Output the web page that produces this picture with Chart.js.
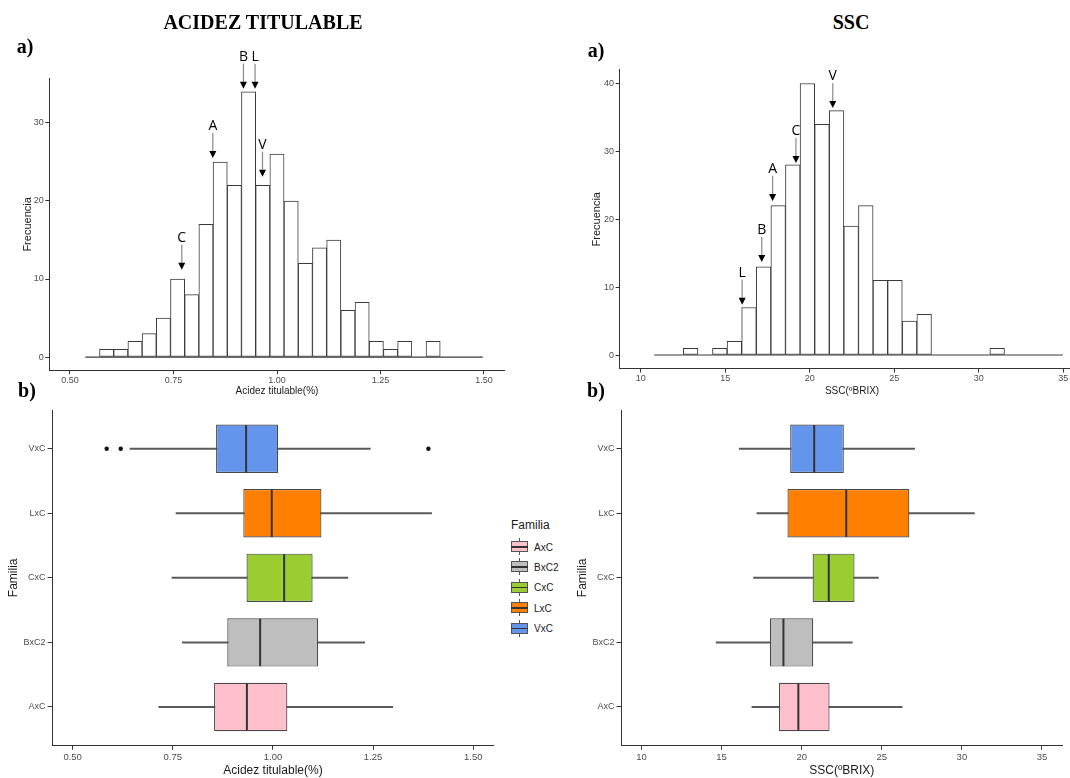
<!DOCTYPE html>
<html>
<head>
<meta charset="utf-8">
<title>Acidez titulable y SSC</title>
<script src="https://cdn.jsdelivr.net/npm/chart.js@4.4.1/dist/chart.umd.min.js"></script>
<style>
    html, body { margin: 0; padding: 0; background: #fff; }
    body { width: 1070px; height: 778px; position: relative; overflow: hidden;
           font-family: 'Liberation Sans', Arial, sans-serif; }
    canvas { position: absolute; }
    .head { position: absolute; transform: translate(-50%, -50%); white-space: nowrap; line-height: 1;
            font-family: 'Liberation Serif', 'Times New Roman', serif; font-weight: bold; font-size: 20px; color: #000; }
    .leg-title { position: absolute; left: 511px; top: 525px; transform: translateY(-50%);
                 font-size: 12px; color: #1a1a1a; }
    .leg-item { position: absolute; left: 511px; height: 17px; }
    .leg-key { position: absolute; left: 0; top: 0; width: 17px; height: 17px; }
    .leg-key .wh { position: absolute; left: 8px; top: 0; width: 1px; height: 17px; background: #555; }
    .leg-key .bx { position: absolute; left: 0; top: 3px; width: 15px; height: 9px; border: 1px solid #555; }
    .leg-key .md { position: absolute; left: 0; top: 8px; width: 17px; height: 1.5px; background: #333; }
    .leg-lab { position: absolute; left: 23px; top: 50%; transform: translateY(-50%); font-size: 10px; color: #1a1a1a; white-space: nowrap; }
</style>
</head>
<body>

<canvas id="hist-acid" width="515" height="370" style="left:0; top:30px; width:515px; height:370px;"></canvas>
<canvas id="hist-ssc" width="530" height="350" style="left:560px; top:50px; width:530px; height:350px;"></canvas>
<canvas id="box-acid" width="500" height="378" style="left:0; top:400px; width:500px; height:378px;"></canvas>
<canvas id="box-ssc" width="510" height="378" style="left:560px; top:400px; width:510px; height:378px;"></canvas>

<div class="head" style="left:263px; top:22px;">ACIDEZ TITULABLE</div>
<div class="head" style="left:851px; top:22px;">SSC</div>
<div class="head" style="left:25px; top:46px;">a)</div>
<div class="head" style="left:596px; top:50px;">a)</div>
<div class="head" style="left:27px; top:390px;">b)</div>
<div class="head" style="left:596px; top:390px;">b)</div>

<div id="legend"></div>

<script>
(function () {
    'use strict';

    // ---- histogram data (bin counts) ----
    var acidBinStart = 0.537;
    var acidBinWidth = 0.03429;
    var acidCounts = [0, 1, 1, 2, 3, 5, 10, 8, 17, 25, 22, 34, 22, 26, 20, 12, 14, 15, 6, 7, 2, 1, 2, 0, 2, 0, 0, 0];

    var sscBinStart = 10.79;
    var sscBinWidth = 0.8636;
    var sscCounts = [0, 0, 1, 0, 1, 2, 7, 13, 22, 28, 40, 34, 36, 19, 22, 11, 11, 5, 6, 0, 0, 0, 0, 1, 0, 0, 0, 0];

    // arrows marking the parents
    var acidNoteLabels = ['A', 'B', 'L', 'V', 'C'];
    var acidNoteX = [0.845, 0.919, 0.947, 0.965, 0.770];
    var acidNoteTip = [25.5, 34.4, 34.4, 23.1, 11.2];

    var sscNoteLabels = ['V', 'C', 'A', 'B', 'L'];
    var sscNoteX = [21.36, 19.18, 17.80, 17.16, 16.00];
    var sscNoteTip = [36.4, 28.3, 22.7, 13.7, 7.4];

    // ---- boxplot data, bottom to top ----
    var families = ['AxC', 'BxC2', 'CxC', 'LxC', 'VxC'];
    var familyColors = ['#FFC0CB', '#BEBEBE', '#9ACD32', '#FF8000', '#6495ED'];

    var acidLow = [0.715, 0.774, 0.748, 0.758, 0.643];
    var acidQ1 = [0.853, 0.886, 0.934, 0.926, 0.858];
    var acidMed = [0.935, 0.968, 1.028, 0.997, 0.933];
    var acidQ3 = [1.036, 1.113, 1.099, 1.121, 1.013];
    var acidHigh = [1.299, 1.229, 1.187, 1.396, 1.243];
    var acidOutlierX = [0.585, 0.620, 1.388];
    var acidOutlierFam = ['VxC', 'VxC', 'VxC'];

    var sscLow = [16.89, 14.66, 16.99, 17.20, 16.10];
    var sscQ1 = [18.58, 18.01, 20.68, 19.11, 19.28];
    var sscMed = [19.79, 18.86, 21.69, 22.78, 20.78];
    var sscQ3 = [21.74, 20.72, 23.30, 26.72, 22.63];
    var sscHigh = [26.27, 23.16, 24.79, 30.78, 27.05];

    var AXIS = '#333333';
    var TICK_TEXT = '#4d4d4d';
    var TITLE_TEXT = '#1a1a1a';

    Chart.defaults.font.family = "'Liberation Sans', Arial, sans-serif";
    Chart.defaults.animation = false;

    /**
     * Arrow + letter annotations above histogram bars.
     */
    function arrowNotes(labels, xs, tips) {
        return {
            id: 'arrowNotes',
            afterDatasetsDraw: function (chart) {
                var ctx = chart.ctx;
                var sx = chart.scales.x;
                var sy = chart.scales.y;
                ctx.save();
                labels.forEach(function (lab, i) {
                    var px = sx.getPixelForValue(xs[i]);
                    var tip = sy.getPixelForValue(tips[i]);
                    ctx.strokeStyle = '#8a8a8a';
                    ctx.lineWidth = 1.2;
                    ctx.beginPath();
                    ctx.moveTo(px, tip - 25);
                    ctx.lineTo(px, tip - 6);
                    ctx.stroke();
                    ctx.fillStyle = '#000';
                    ctx.beginPath();
                    ctx.moveTo(px - 3.5, tip - 7);
                    ctx.lineTo(px + 3.5, tip - 7);
                    ctx.lineTo(px, tip);
                    ctx.closePath();
                    ctx.fill();
                    ctx.font = "14px 'Open Sans', sans-serif";
                    ctx.textAlign = 'center';
                    ctx.textBaseline = 'middle';
                    ctx.fillText(lab, px, tip - 32);
                });
                ctx.restore();
            }
        };
    }

    /**
     * Median strokes drawn across the box elements.
     */
    function medianLines(medians) {
        return {
            id: 'medianLines',
            afterDatasetsDraw: function (chart) {
                var ctx = chart.ctx;
                var sx = chart.scales.x;
                var boxes = chart.getDatasetMeta(0).data;
                ctx.save();
                ctx.strokeStyle = '#333';
                ctx.lineWidth = 2;
                boxes.forEach(function (el, i) {
                    var px = sx.getPixelForValue(medians[i]);
                    var h = el.height / 2 - 0.5;
                    ctx.beginPath();
                    ctx.moveTo(px, el.y - h);
                    ctx.lineTo(px, el.y + h);
                    ctx.stroke();
                });
                ctx.restore();
            }
        };
    }

    function axisCommon(extra) {
        var base = {
            type: 'linear',
            offset: false,
            border: { display: true, color: AXIS, width: 1 },
            grid: { display: true, offset: false, drawOnChartArea: false, drawTicks: true,
                    tickLength: 4, tickColor: AXIS },
            ticks: { color: TICK_TEXT, font: { size: 9 }, includeBounds: false, autoSkip: false, maxRotation: 0 }
        };
        return Object.assign(base, extra);
    }

    function histChart(id, opt) {
        var bars = opt.counts.map(function (c, i) {
            return { x: opt.start + (i + 0.5) * opt.width, y: c };
        });
        var end = opt.start + opt.counts.length * opt.width;

        return new Chart(document.getElementById(id), {
            type: 'bar',
            data: {
                datasets: [{
                    data: bars,
                    backgroundColor: '#ffffff',
                    borderColor: '#3a3a3a',
                    borderWidth: 1,
                    borderSkipped: false,
                    barPercentage: 1,
                    categoryPercentage: 1
                }, {
                    type: 'line',
                    data: [{ x: opt.start, y: 0 }, { x: end, y: 0 }],
                    borderColor: '#3a3a3a',
                    borderWidth: 1.2,
                    pointRadius: 0
                }]
            },
            options: {
                responsive: false,
                events: [],
                layout: { padding: opt.padding },
                plugins: { legend: { display: false }, tooltip: { enabled: false } },
                scales: {
                    x: axisCommon({
                        min: opt.xMin, max: opt.xMax,
                        afterFit: function (s) { s.height = opt.xHeight; },
                        ticks: { color: TICK_TEXT, font: { size: 9 }, includeBounds: false, autoSkip: false,
                                 maxRotation: 0, padding: 1, stepSize: opt.xStep, callback: opt.xFormat },
                        title: { display: true, text: opt.xTitle, color: TITLE_TEXT, font: { size: 10 },
                                 padding: { top: 0, bottom: 3 } }
                    }),
                    y: axisCommon({
                        min: opt.yMin, max: opt.yMax,
                        afterFit: function (s) { s.width = opt.yWidth; },
                        ticks: { color: TICK_TEXT, font: { size: 9 }, includeBounds: false, autoSkip: false,
                                 padding: 1.5, stepSize: 10 },
                        title: { display: true, text: 'Frecuencia', color: TITLE_TEXT, font: { size: 11 },
                                 padding: { top: opt.yTitlePad, bottom: 0 } }
                    })
                }
            },
            plugins: [arrowNotes(opt.noteLabels, opt.noteX, opt.noteTip)]
        });
    }

    function boxChart(id, opt) {
        var cats = families.map(function (f, i) { return i + 1; });
        var boxes = cats.map(function (y, i) { return { x: [opt.q1[i], opt.q3[i]], y: y }; });
        var whiskers = cats.map(function (y, i) { return { x: [opt.low[i], opt.high[i]], y: y }; });
        var outliers = (opt.outX || []).map(function (x, i) {
            return { x: x, y: families.indexOf(opt.outFam[i]) + 1 };
        });

        return new Chart(document.getElementById(id), {
            type: 'bar',
            data: {
                datasets: [{
                    data: boxes,
                    indexAxis: 'y',
                    grouped: false,
                    backgroundColor: familyColors,
                    borderColor: '#4a4a4a',
                    borderWidth: 1.2,
                    borderSkipped: false,
                    barPercentage: 0.75,
                    categoryPercentage: 1
                }, {
                    data: whiskers,
                    indexAxis: 'y',
                    grouped: false,
                    backgroundColor: '#5a5a5a',
                    borderWidth: 0,
                    barThickness: 1.3
                }, {
                    type: 'scatter',
                    data: outliers,
                    backgroundColor: '#111',
                    borderWidth: 0,
                    pointRadius: 2.2
                }]
            },
            options: {
                indexAxis: 'y',
                responsive: false,
                events: [],
                layout: { padding: opt.padding },
                plugins: { legend: { display: false }, tooltip: { enabled: false } },
                scales: {
                    x: axisCommon({
                        min: opt.xMin, max: opt.xMax,
                        afterFit: function (s) { s.height = opt.xHeight; },
                        ticks: { color: TICK_TEXT, font: { size: 9.5 }, includeBounds: false, autoSkip: false,
                                 maxRotation: 0, padding: 2, stepSize: opt.xStep, callback: opt.xFormat },
                        title: { display: true, text: opt.xTitle, color: TITLE_TEXT, font: { size: 12 },
                                 padding: { top: 0, bottom: 0 } }
                    }),
                    y: axisCommon({
                        min: 0.4, max: 5.6,
                        afterFit: function (s) { s.width = opt.yWidth; },
                        grid: { display: true, offset: false, drawOnChartArea: false, drawTicks: true,
                                tickLength: 5, tickColor: AXIS },
                        ticks: { color: TICK_TEXT, font: { size: 9 }, includeBounds: false, autoSkip: false,
                                 padding: 2, stepSize: 1,
                                 callback: function (v) { return families[v - 1] || ''; } },
                        title: { display: true, text: 'Familia', color: TITLE_TEXT, font: { size: 12 },
                                 padding: { top: opt.yTitlePad, bottom: 0 } }
                    })
                }
            },
            plugins: [medianLines(opt.med)]
        });
    }

    function fmt2(v) { return Number(v).toFixed(2); }
    function fmt0(v) { return String(v); }

    histChart('hist-acid', {
        counts: acidCounts, start: acidBinStart, width: acidBinWidth,
        xMin: 0.45, xMax: 1.55, xStep: 0.25, xFormat: fmt2, yMin: -1.7, yMax: 35.7,
        xTitle: 'Acidez titulable(%)', xHeight: 29.7, yWidth: 49.3, yTitlePad: 21.4,
        padding: { top: 48.5, right: 10.3, left: 0, bottom: 0 },
        noteLabels: acidNoteLabels, noteX: acidNoteX, noteTip: acidNoteTip
    });

    histChart('hist-ssc', {
        counts: sscCounts, start: sscBinStart, width: sscBinWidth,
        xMin: 8.75, xMax: 36.25, xStep: 5, xFormat: fmt0, yMin: -2, yMax: 42,
        xTitle: 'SSC(ºBRIX)', xHeight: 31.4, yWidth: 59.6, yTitlePad: 30.4,
        padding: { top: 19.9, right: 5.5, left: 0, bottom: 0 },
        noteLabels: sscNoteLabels, noteX: sscNoteX, noteTip: sscNoteTip
    });

    boxChart('box-acid', {
        low: acidLow, q1: acidQ1, med: acidMed, q3: acidQ3, high: acidHigh,
        outX: acidOutlierX, outFam: acidOutlierFam,
        xMin: 0.45, xMax: 1.55, xStep: 0.25, xFormat: fmt2,
        xTitle: 'Acidez titulable(%)', xHeight: 32.3, yWidth: 52.6, yTitlePad: 6.8,
        padding: { top: 10, right: 6.7, left: 0, bottom: 0 }
    });

    boxChart('box-ssc', {
        low: sscLow, q1: sscQ1, med: sscMed, q3: sscQ3, high: sscHigh,
        xMin: 8.75, xMax: 36.25, xStep: 5, xFormat: fmt0,
        xTitle: 'SSC(ºBRIX)', xHeight: 32.3, yWidth: 61.5, yTitlePad: 15.8,
        padding: { top: 10, right: 8, left: 0, bottom: 0 }
    });

    // ---- legend (Familia) ----
    var legend = document.getElementById('legend');
    var title = document.createElement('div');
    title.className = 'leg-title';
    title.textContent = 'Familia';
    legend.appendChild(title);

    families.forEach(function (f, i) {
        var item = document.createElement('div');
        item.className = 'leg-item';
        item.style.top = (538 + i * 20.4) + 'px';
        item.innerHTML = '<div class="leg-key"><div class="wh"></div>' +
            '<div class="bx" style="background:' + familyColors[i] + '"></div><div class="md"></div></div>' +
            '<div class="leg-lab"></div>';
        item.querySelector('.leg-lab').textContent = f;
        legend.appendChild(item);
    });
})();
</script>
</body>
</html>
